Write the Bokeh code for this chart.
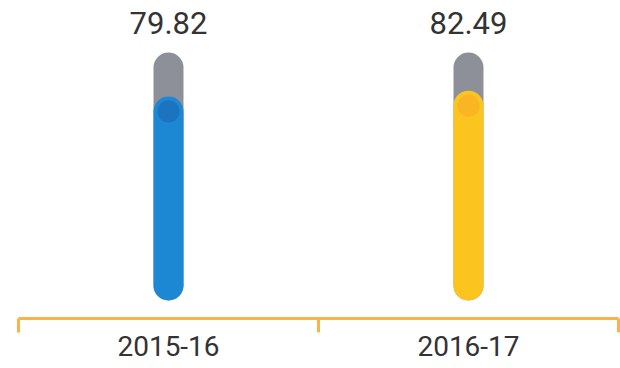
from bokeh.plotting import figure
from bokeh.embed import file_html
from bokeh.resources import INLINE
from bokeh.core.properties import value
from bokeh.models import Range1d

# data
years = ["2015-16", "2016-17"]
values = [79.82, 82.49]
fill_colors = ["#1c87d3", "#fcc41e"]
cap_colors = ["#1b5fae", "#f7a52a"]
full_scale = 100

x_pos = [0.5, 1.5]

W, H = 620, 368
p = figure(width=W, height=H, output_backend="svg", toolbar_location=None,
           x_range=Range1d(-0.06, 2.0067), y_range=Range1d(-38.07, 130.73),
           min_border=0, outline_line_color=None)
p.axis.visible = False
p.grid.visible = False
p.background_fill_color = "white"
p.border_fill_color = "white"

# background gray tube
p.segment(x0=x_pos, y0=[0, 0], x1=x_pos, y1=[full_scale] * 2,
          line_color="#8d9099", line_width=30, line_cap="round")
# filled part
p.segment(x0=x_pos, y0=[0, 0], x1=x_pos, y1=values,
          line_color=fill_colors, line_width=30, line_cap="round")
# darker cap at fill top
p.scatter(x=x_pos, y=values, size=22, fill_color=cap_colors, line_color=None,
          fill_alpha=0.5)

# value labels
p.text(x=x_pos, y=[120.6] * 2, text=[f"{v:.2f}" for v in values],
       text_align="center", text_baseline="middle", text_color="#333333",
       text_font=value("Roboto"), text_font_size="31px")

# axis line with boundary ticks
p.segment(x0=[0], y0=[-15.1], x1=[2], y1=[-15.1], line_color="#f9b24c", line_width=3)
p.segment(x0=[0, 1, 2], y0=[-15.1] * 3, x1=[0, 1, 2], y1=[-21.5] * 3,
          line_color="#f9b24c", line_width=3)

# category labels
p.text(x=x_pos, y=[-27.8] * 2, text=years,
       text_align="center", text_baseline="middle", text_color="#333333",
       text_font=value("Roboto"), text_font_size="28px")

open("out.html", "w").write(file_html(p, INLINE))
